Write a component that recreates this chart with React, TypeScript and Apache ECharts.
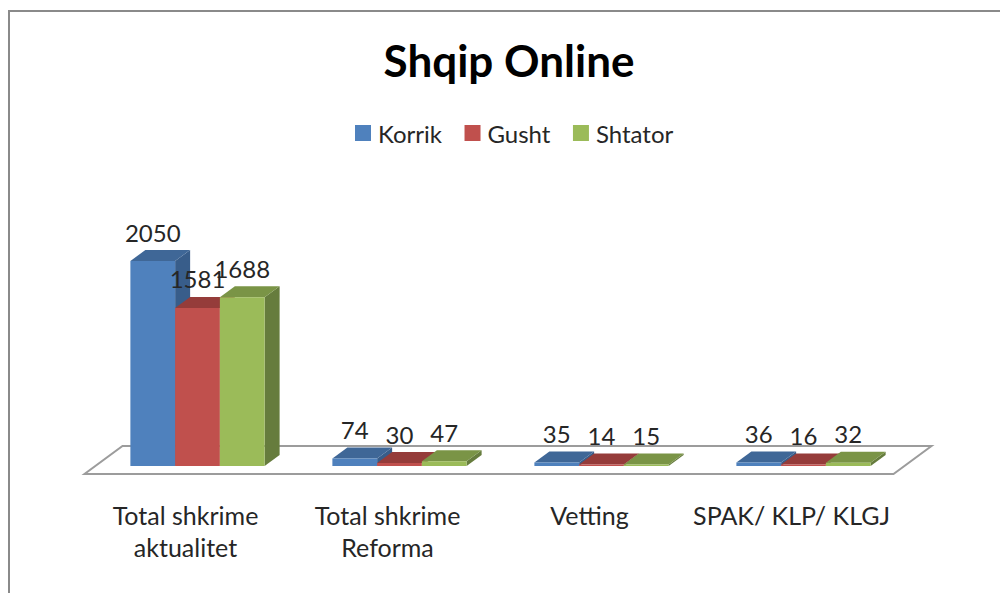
import React, { useEffect, useRef } from "react";
import * as echarts from "echarts";

const categories = ["Total shkrime\naktualitet", "Total shkrime\nReforma", "Vetting", "SPAK/ KLP/ KLGJ"];
const korrik = [2050, 74, 35, 36];
const gusht = [1581, 30, 14, 16];
const shtator = [1688, 47, 15, 32];

const FONT = "Lato, 'Open Sans', sans-serif";
const DEPTH_X = 15;
const DEPTH_Y = 11;
const BAR_FRACTION = 0.2215;

type Palette = { front: string; top: string; side: string };
const palettes: Palette[] = [
  { front: "#4f81bd", top: "#3f6797", side: "#385d8a" },
  { front: "#c0504d", top: "#953c3a", side: "#8c3a38" },
  { front: "#9bbb59", top: "#7a9446", side: "#667c3d" },
];

function barRenderer(seriesIndex: number) {
  const pal = palettes[seriesIndex];
  return (_params: any, api: any) => {
    const cat = api.value(0);
    const val = api.value(1);
    const band = api.size([1, 0])[0];
    const w = band * BAR_FRACTION;
    const [cx, yTop] = api.coord([cat, val]);
    const [, yBase] = api.coord([cat, 0]);
    const x0 = cx - 1.5 * w + seriesIndex * w;
    const x1 = x0 + w;
    return {
      type: "group",
      children: [
        {
          type: "polygon",
          shape: { points: [[x1, yTop], [x1 + DEPTH_X, yTop - DEPTH_Y], [x1 + DEPTH_X, yBase - DEPTH_Y], [x1, yBase]] },
          style: { fill: pal.side },
        },
        {
          type: "polygon",
          shape: { points: [[x0, yTop], [x0 + DEPTH_X, yTop - DEPTH_Y], [x1 + DEPTH_X, yTop - DEPTH_Y], [x1, yTop]] },
          style: { fill: pal.top },
        },
        {
          type: "rect",
          shape: { x: x0, y: yTop, width: w, height: yBase - yTop },
          style: { fill: pal.front },
        },
        {
          type: "text",
          x: x0 + w / 2,
          y: yTop - 29,
          z2: 10,
          style: {
            text: String(val),
            fill: "#262626",
            fontFamily: FONT,
            fontSize: 24,
            textAlign: "center",
            textVerticalAlign: "middle",
          },
        },
      ],
    };
  };
}

function floorRenderer(_params: any, api: any) {
  const [x0, y0] = api.coord([0, 0]);
  const band = api.size([1, 0])[0];
  const left = x0 - band / 2 - 12;
  const right = x0 - band / 2 + band * categories.length - 11;
  const front = y0 + 8;
  const back = y0 - 20;
  return {
    type: "polygon",
    shape: { points: [[left, front], [right, front], [right + 38, back], [left + 38, back]] },
    style: { fill: "#ffffff", stroke: "#9c9c9c", lineWidth: 2 },
  };
}

export default function App() {
  const ref = useRef<HTMLDivElement>(null);
  useEffect(() => {
    document.body.style.margin = "0";
    const chart = echarts.init(ref.current!, undefined, { renderer: "svg" });
    const makeSeries = (name: string, values: number[], i: number) => ({
      name,
      type: "custom",
      z: 3,
      clip: false,
      itemStyle: { color: palettes[i].front },
      encode: { x: 0, y: 1 },
      data: values.map((v, c) => [c, v]),
      renderItem: barRenderer(i),
    });
    chart.setOption({
      animation: false,
      backgroundColor: "#ffffff",
      title: {
        text: "Shqip Online",
        left: 504,
        top: 33,
        textAlign: "center",
        textStyle: { fontFamily: FONT, fontSize: 44, fontWeight: "bold", color: "#000000" },
      },
      legend: {
        data: ["Korrik", "Gusht", "Shtator"],
        left: 350,
        top: 116,
        icon: "rect",
        itemWidth: 16,
        itemHeight: 16,
        itemGap: 22.5,
        selectedMode: false,
        textStyle: { fontFamily: FONT, fontSize: 24, color: "#262626", padding: [0, 0, 0, 2] },
      },
      grid: { left: 96.5, width: 808, top: 166, height: 300 },
      xAxis: {
        type: "category",
        data: categories,
        axisLine: { show: false },
        axisTick: { show: false },
        axisLabel: {
          interval: 0,
          margin: 33,
          fontFamily: FONT,
          fontSize: 25,
          lineHeight: 32,
          color: "#262626",
          padding: [0, 24, 0, 0],
        },
      },
      yAxis: { type: "value", min: 0, max: 3000, show: false },
      graphic: [
        {
          type: "polyline",
          shape: { points: [[9, 593], [9, 11], [1000, 11]] },
          style: { fill: "none", stroke: "#8a8a8a", lineWidth: 2 },
        },
      ],
      series: [
        {
          name: "floor",
          type: "custom",
          z: 1,
          silent: true,
          clip: false,
          encode: { x: 0, y: 1 },
          data: [[0, 0]],
          renderItem: floorRenderer,
        },
        makeSeries("Korrik", korrik, 0),
        makeSeries("Gusht", gusht, 1),
        makeSeries("Shtator", shtator, 2),
      ],
    });
    return () => chart.dispose();
  }, []);
  return <div ref={ref} style={{ position: "fixed", left: 0, top: 0, width: 1000, height: 593 }} />;
}
